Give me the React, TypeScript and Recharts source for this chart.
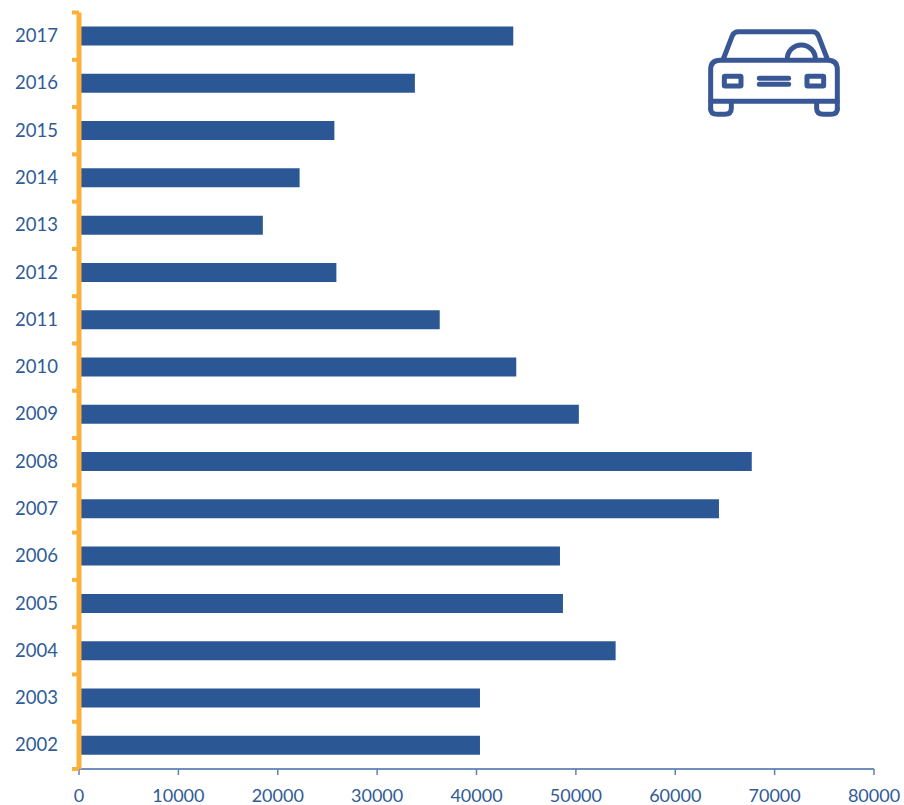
import { Bar, BarChart, XAxis, YAxis } from "recharts";

const years = ["2002", "2003", "2004", "2005", "2006", "2007", "2008", "2009", "2010", "2011", "2012", "2013", "2014", "2015", "2016", "2017"];
const values = [40350, 40350, 54000, 48700, 48400, 64400, 67700, 50300, 44000, 36300, 25900, 18500, 22200, 25700, 33800, 43700];
const xTicks = [0, 10000, 20000, 30000, 40000, 50000, 60000, 70000, 80000];

const rows = years.map((year, i) => ({ year, value: values[i] }));

const WIDTH = 904;
const HEIGHT = 805;
const TOP = 12.5;
const BOTTOM = 36;
const BAND = (HEIGHT - TOP - BOTTOM) / years.length;

const ink = "#2f5b97";
const amber = "#fbb03b";
const font = "Lato, sans-serif";

// category ticks sit between the bands, labels stay centred
function YearTick({ x, y, payload, index }: any) {
  return (
    <g>
      <text x={x - 13} y={y + 6} textAnchor="end" fill={ink} fontSize={18.5} fontFamily={font}>
        {payload.value}
      </text>
      <line x1={72} x2={79} y1={y + BAND / 2} y2={y + BAND / 2} stroke={amber} strokeWidth={4} />
      {index === years.length - 1 && (
        <line x1={72} x2={79} y1={y - BAND / 2} y2={y - BAND / 2} stroke={amber} strokeWidth={4} />
      )}
    </g>
  );
}

function CarIcon() {
  return (
    <g
      transform="translate(690 15) scale(0.3333)"
      fill="none"
      stroke="#3a5795"
      strokeWidth={15}
      strokeLinejoin="round"
      strokeLinecap="round"
    >
      <path d="M62 282 L62 164 Q62 136 90 136 L414 136 Q442 136 442 164 L442 282" />
      <path d="M62 259 L442 259" />
      <path d="M100 132 L127 62 Q132 50 145 50 L368 50 Q380 50 385 62 L412 132" />
      <path d="M292 132 A42 42 0 0 1 376 132" />
      <rect x={103} y={184} width={50} height={29} rx={2} />
      <rect x={351} y={184} width={50} height={29} rx={2} />
      <path d="M208 190 L296 190 M208 208 L296 208" />
      <path d="M62 282 Q62 298 82 298 L104 298 Q124 298 124 280 L124 262" />
      <path d="M380 262 L380 280 Q380 298 400 298 L422 298 Q442 298 442 282" />
    </g>
  );
}

export default function App() {
  return (
    <div style={{ position: "absolute", left: 0, top: 0, width: WIDTH, height: HEIGHT, background: "#fff" }}>
      <BarChart
        width={WIDTH}
        height={HEIGHT}
        data={rows}
        layout="vertical"
        margin={{ top: TOP, right: 30, bottom: 0, left: 0 }}
        barSize={19}
      >
        <XAxis
          type="number"
          domain={[0, 80000]}
          ticks={xTicks}
          height={BOTTOM}
          interval={0}
          axisLine={{ stroke: "#7090bb", strokeWidth: 2 }}
          tickLine={{ stroke: "#5f82b3", strokeWidth: 1.5 }}
          tickSize={6}
          tickMargin={14}
          tick={{ fill: ink, fontSize: 18, fontFamily: font }}
        />
        <YAxis
          type="category"
          dataKey="year"
          width={79}
          reversed
          interval={0}
          axisLine={{ stroke: amber, strokeWidth: 5 }}
          tickLine={false}
          tick={YearTick}
        />
        <Bar dataKey="value" fill="#2c5795" isAnimationActive={false} />
        <CarIcon />
      </BarChart>
    </div>
  );
}
